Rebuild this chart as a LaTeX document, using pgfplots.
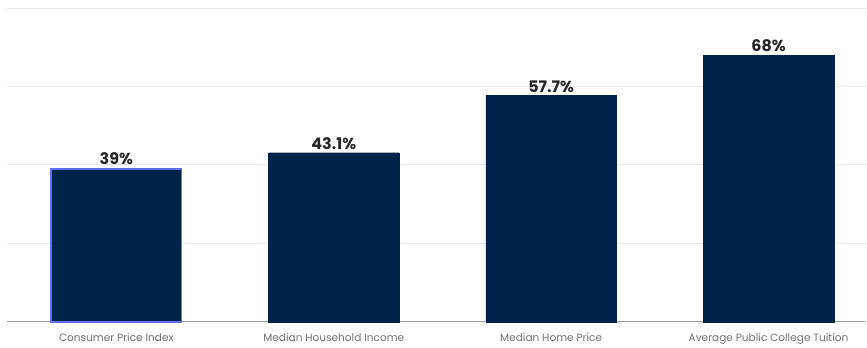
\documentclass[border=0pt]{standalone}
\usepackage{pgfplots}
\pgfplotsset{compat=1.18}
\usepackage{fontspec}
\setmainfont{Poppins}
\definecolor{barnavy}{RGB}{0,35,73}
\definecolor{hl}{RGB}{90,110,255}
\definecolor{lblgray}{RGB}{115,115,115}
\definecolor{gridc}{RGB}{234,234,234}
\begin{document}
\begin{tikzpicture}
\begin{axis}[
  scale only axis,
  width=860bp, height=314bp,
  xmin=-0.503, xmax=3.45,
  ymin=0, ymax=80,
  ybar, bar width=0.6, bar shift=0pt,
  xtick={0,1,2,3},
  xticklabels={Consumer Price Index, Median Household Income, Median Home Price, Average Public College Tuition},
  xticklabel style={font=\fontsize{10.6}{13}\selectfont, text=lblgray, yshift=-8bp},
  major tick length=0pt,
  ytick={20,40,60,80}, yticklabels={},
  ymajorgrids, grid style={gridc, line width=0.9pt},
  axis x line*=bottom, axis y line*=left,
  y axis line style={draw=none},
  x axis line style={draw=gray!75, line width=1.3pt, -},
  /pgf/number format/assume math mode=true,
  nodes near coords={\pgfmathprintnumber{\pgfplotspointmeta}\%},
  nodes near coords style={font=\bfseries\fontsize{16}{18}\selectfont, text=black!85, inner sep=3pt},
  point meta=explicit,
  clip=false,
]
\addplot[fill=barnavy, draw=hl, line width=1.6pt] coordinates {(0,39) [39]};
\addplot[fill=barnavy, draw=barnavy] coordinates {(1,43.1) [43.1] (2,57.7) [57.7] (3,68) [68]};
\end{axis}
\path (current axis.south west) ++(-7bp,-25bp) coordinate (a);
\path (current axis.north east) ++(0,8bp) coordinate (b);
\path[use as bounding box] (a) rectangle (b);
\end{tikzpicture}
\end{document}
